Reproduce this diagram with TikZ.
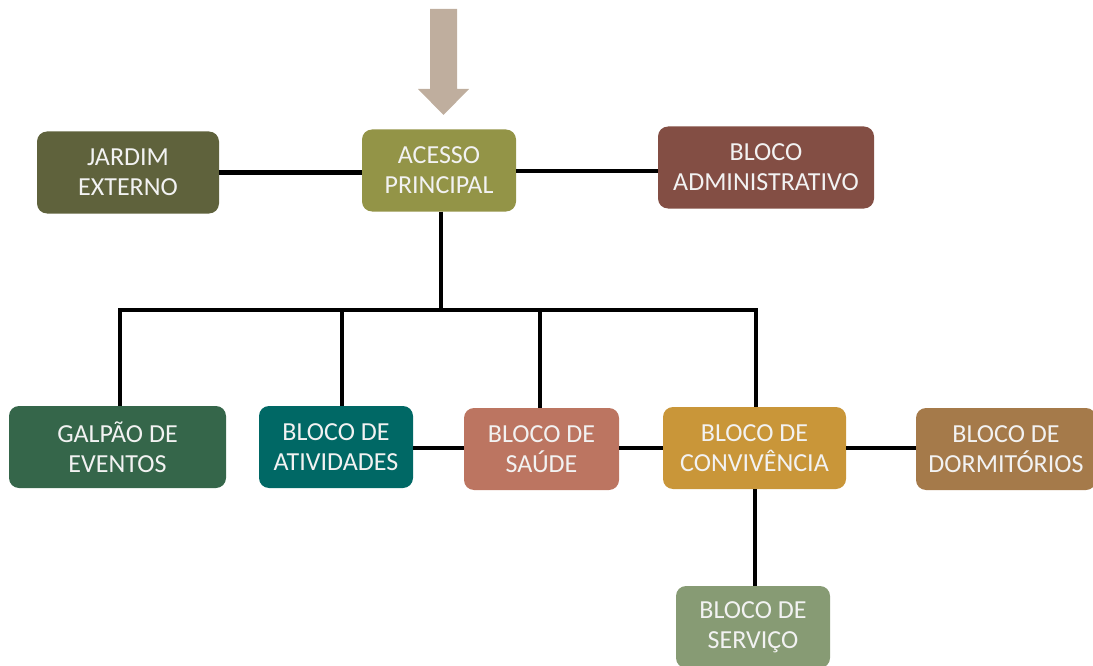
\documentclass[tikz,border=0pt]{standalone}
\usepackage{fontspec}
\setmainfont{Carlito}
\begin{document}
\begin{tikzpicture}[x=1pt,y=-1pt,
  box/.style={rounded corners=10pt, minimum height=82pt, inner sep=0pt, align=center,
    text=white!95!black, font=\fontsize{26}{30}\selectfont},
  link/.style={line width=4.5pt, black}]
\useasboundingbox (0,0) rectangle (1093,666);
\definecolor{cJar}{HTML}{5F623C}
\definecolor{cAce}{HTML}{939447}
\definecolor{cAdm}{HTML}{834E44}
\definecolor{cGal}{HTML}{35664A}
\definecolor{cAti}{HTML}{006865}
\definecolor{cSau}{HTML}{BC7561}
\definecolor{cCon}{HTML}{C99639}
\definecolor{cDor}{HTML}{A57A4A}
\definecolor{cSer}{HTML}{879B74}
\definecolor{cArr}{HTML}{BFAE9E}

\node[box, fill=cJar, minimum width=182pt] (jar) at (128,172.5) {JARDIM\\EXTERNO};
\node[box, fill=cAce, minimum width=154pt] (ace) at (439,170.5) {ACESSO\\PRINCIPAL};
\node[box, fill=cAdm, minimum width=216pt] (adm) at (766,167.5) {BLOCO\\ADMINISTRATIVO};
\node[box, fill=cGal, minimum width=217pt] (gal) at (117.5,447) {GALPÃO DE\\EVENTOS};
\node[box, fill=cAti, minimum width=154pt] (ati) at (336,447) {BLOCO DE\\ATIVIDADES};
\node[box, fill=cSau, minimum width=155pt] (sau) at (541.5,449) {BLOCO DE\\SAÚDE};
\node[box, fill=cCon, minimum width=183pt] (con) at (754.5,448) {BLOCO DE\\CONVIVÊNCIA};
\node[box, fill=cDor, minimum width=180pt] (dor) at (1006,449) {BLOCO DE\\DORMITÓRIOS};
\node[box, fill=cSer, minimum width=154pt] (ser) at (753,627) {BLOCO DE\\SERVIÇO};

% entrance arrow
\fill[cArr] (430,9) -- (457,9) -- (457,89) -- (469,89) -- (443.5,115) -- (418,89) -- (430,89) -- cycle;

\coordinate (bus) at (441,310);
\coordinate (busL) at (118,310);
\coordinate (busR) at (758,310);

\draw[link] (jar.east) -- (jar.east -| ace.west);
\draw[link] (ace.east |- 0,171) -- (adm.west |- 0,171);
\draw[link] (ace.south -| bus) -- (bus);
\draw[link] (busL) -- (busR);
\draw[link] (120,310) -- (gal.north -| 120,0);
\draw[link] (342,310) -- (ati.north -| 342,0);
\draw[link] (540,310) -- (sau.north -| 540,0);
\draw[link] (756,310) -- (con.north -| 756,0);
\draw[link] (ati.east |- 0,448) -- (sau.west |- 0,448);
\draw[link] (sau.east |- 0,448) -- (con.west |- 0,448);
\draw[link] (con.east |- 0,448) -- (dor.west |- 0,448);
\draw[link] (con.south -| 755,0) -- (ser.north -| 755,0);
\end{tikzpicture}
\end{document}
